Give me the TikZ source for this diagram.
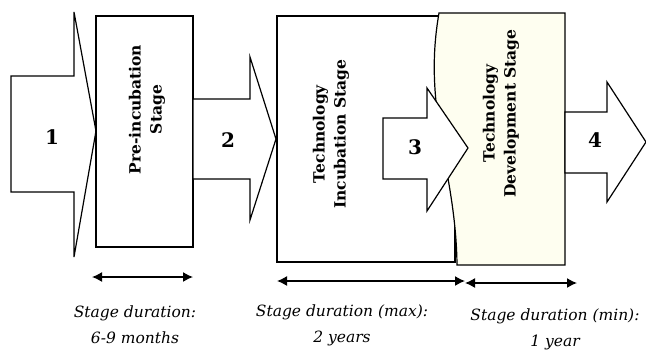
\documentclass[tikz,border=0pt]{standalone}
\usepackage{fontspec}
\setmainfont{DejaVu Serif}
\usetikzlibrary{arrows.meta}
\definecolor{cream}{RGB}{254,254,240}
\begin{document}
\begin{tikzpicture}[x=1pt,y=-1pt,
  outl/.style={draw=black,line width=1.2pt,line join=miter},
  boxtext/.style={rotate=90,align=center,font=\fontsize{15.5}{21}\selectfont\bfseries},
  numtext/.style={font=\fontsize{20}{24}\selectfont\bfseries},
  durtext/.style={align=center,font=\fontsize{15.5}{26}\selectfont\itshape},
  dim/.style={line width=1.4pt,{Latex[length=10pt,width=10pt]}-{Latex[length=10pt,width=10pt]}}]
\useasboundingbox (0,0) rectangle (646,354);
% arrow 1
\draw[outl,fill=white] (11,76) -- (74,76) -- (74,12) -- (96,131) -- (74,257) -- (74,192) -- (11,192) -- cycle;
% box 1
\node[outl,fill=white,minimum width=97pt,minimum height=231pt,inner sep=0pt] (b1) at (144.5,131.5) {};
\node[boxtext] (t1) at (147,109.5) {Pre-incubation\\Stage};
% arrow 2
\draw[outl,fill=white] (193,99) -- (250,99) -- (250,57) -- (276,139) -- (250,220) -- (250,179) -- (193,179) -- cycle;
% box 2
\draw[outl,fill=white] (277,16) rectangle (455,262);
\coordinate (b2) at (277,16);
% box 3
\draw[outl,fill=cream] (439,13) -- (565,13) -- (565,265) -- (457,265) .. controls (456,170) and (422,110) .. (439,13) -- cycle;
\coordinate (b3) at (565,13);
\node[boxtext] (t2) at (331,134) {Technology\\Incubation Stage};
\node[boxtext] (t3) at (501,113.5) {Technology\\Development Stage};
% arrow 3
\draw[outl,fill=white] (383,118) -- (427,118) -- (427,88) -- (468,148) -- (427,211) -- (427,179) -- (383,179) -- cycle;
% arrow 4
\draw[outl,fill=white] (565,112) -- (607,112) -- (607,82) -- (646,142) -- (607,202) -- (607,173) -- (565,173) -- cycle;
% numbers
\node[numtext] (n1) at (52,137) {1};
\node[numtext] (n2) at (228,140) {2};
\node[numtext] (n3) at (415,147) {3};
\node[numtext] (n4) at (595,140) {4};
% duration arrows
\coordinate (d1a) at (92,277); \coordinate (d1b) at (193,277);
\coordinate (d2a) at (277,281); \coordinate (d2b) at (465,281);
\coordinate (d3a) at (465,283); \coordinate (d3b) at (577,283);
\draw[dim] (d1a) -- (d1b);
\draw[dim] (d2a) -- (d2b);
\draw[dim] (d3a) -- (d3b);
\node[durtext] (l1) at (135,325) {Stage duration:\\6-9 months};
\node[durtext] (l2) at (342,325) {Stage duration (max):\\2 years};
\node[durtext] (l3) at (555,329) {Stage duration (min):\\1 year};
\end{tikzpicture}
\end{document}
